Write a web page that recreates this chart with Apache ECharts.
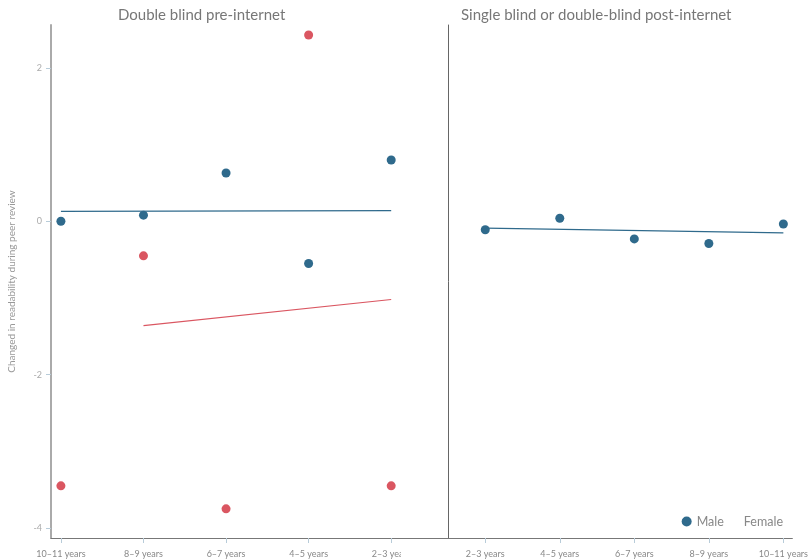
<!DOCTYPE html>
<html>
<head>
<meta charset="utf-8">
<script src="https://cdn.jsdelivr.net/npm/echarts@6/dist/echarts.min.js"></script>
<style>
  html, body { margin: 0; padding: 0; background: #fff; }
  #chart { width: 811px; height: 559px; }
</style>
</head>
<body>
<div id="chart"></div>
<script>
// Categories for each panel (left panel runs oldest to youngest)
const leftCategories = ['10–11 years', '8–9 years', '6–7 years', '4–5 years', '2–3 years'];
const rightCategories = ['2–3 years', '4–5 years', '6–7 years', '8–9 years', '10–11 years'];

// Change in readability, per category
const leftMale = [0.00, 0.08, 0.63, -0.55, 0.80];
const leftFemale = [-3.45, -0.45, -3.75, 2.43, -3.45];
const rightMale = [-0.11, 0.04, -0.23, -0.29, -0.035];

// Fitted trend lines: [start category index, end category index, start value, end value]
const leftMaleTrend = [0, 4, 0.13, 0.14];
const leftFemaleTrend = [1, 4, -1.36, -1.02];
const rightMaleTrend = [0, 4, -0.09, -0.15];

const yTicks = [-4, -2, 0, 2];
const tickIdx = [0, 1, 2, 3, 4];

const BLUE = '#2f6a8c';
const RED = '#da5661';
const FONT = 'Lato, "Open Sans", sans-serif';

const toPoints = arr => arr.map((v, i) => [i, v]);
const trendPoints = t => [[t[0], t[2]], [t[1], t[3]]];

const chart = echarts.init(document.getElementById('chart'), null, { renderer: 'canvas' });

function xAxisFor(gridIndex, cats, min, max) {
  return {
    type: 'value', gridIndex, min, max,
    splitLine: { show: false },
    axisLine: { show: true, onZero: false, lineStyle: { color: '#777', width: 1.2 } },
    axisTick: { show: true, customValues: tickIdx, length: 5, lineStyle: { color: '#b8ccd9', width: 1 } },
    axisLabel: {
      show: true, customValues: tickIdx, margin: 12,
      color: '#888', fontSize: 9, fontFamily: FONT,
      formatter: v => cats[Math.round(v)] || ''
    }
  };
}

const option = {
  backgroundColor: '#fff',
  animation: false,
  title: [
    { text: 'Double blind pre-internet', left: 113, top: 3,
      textStyle: { color: '#777', fontSize: 15, fontWeight: 'normal', fontFamily: FONT } },
    { text: 'Single blind or double-blind post-internet', left: 456, top: 3,
      textStyle: { color: '#777', fontSize: 15, fontWeight: 'normal', fontFamily: FONT } }
  ],
  legend: {
    right: 23, bottom: 26, itemGap: 5, itemWidth: 10, itemHeight: 10,
    textStyle: { color: '#888', fontSize: 12.5, fontFamily: FONT },
    data: [
      { name: 'Male', icon: 'circle' },
      { name: 'Female', icon: 'circle', itemStyle: { opacity: 0 } }
    ]
  },
  // the left panel's drawing area ends just past its last label, cutting it off
  graphic: [
    { type: 'rect', z: 100, shape: { x: 401, y: 544, width: 46, height: 15 },
      style: { fill: '#fff' }, silent: true }
  ],
  grid: [
    { left: 51, top: 25, width: 398, height: 513, containLabel: false },
    { left: 448, top: 25, width: 348, height: 513, containLabel: false }
  ],
  xAxis: [
    xAxisFor(0, leftCategories, -0.12, 4.7),
    xAxisFor(1, rightCategories, -0.5, 4.12)
  ],
  yAxis: [
    {
      type: 'value', gridIndex: 0, min: -4.13, max: 2.56,
      name: 'Changed in readability during peer review',
      nameLocation: 'middle', nameGap: 34, nameRotate: 90,
      nameTextStyle: { color: '#999', fontSize: 10, fontFamily: FONT },
      splitLine: { show: false },
      axisLine: { show: true, onZero: false, lineStyle: { color: '#aaa', width: 2 } },
      axisTick: { show: true, customValues: yTicks, length: 5, lineStyle: { color: '#b8ccd9' } },
      axisLabel: { show: true, customValues: yTicks, margin: 9, color: '#aaa', fontSize: 9, fontFamily: FONT }
    },
    {
      type: 'value', gridIndex: 1, min: -4.13, max: 2.56,
      splitLine: { show: false },
      axisLine: { show: true, onZero: false, lineStyle: { color: '#666', width: 1 } },
      axisTick: { show: false },
      axisLabel: { show: false }
    }
  ],
  series: [
    { name: 'Male', type: 'line', xAxisIndex: 0, yAxisIndex: 0, data: trendPoints(leftMaleTrend),
      showSymbol: false, lineStyle: { color: BLUE, width: 1.2 }, itemStyle: { color: BLUE }, silent: true },
    { name: 'Female', type: 'line', xAxisIndex: 0, yAxisIndex: 0, data: trendPoints(leftFemaleTrend),
      showSymbol: false, lineStyle: { color: RED, width: 1.2 }, itemStyle: { color: RED }, silent: true },
    { name: 'Male', type: 'line', xAxisIndex: 1, yAxisIndex: 1, data: trendPoints(rightMaleTrend),
      showSymbol: false, lineStyle: { color: BLUE, width: 1.2 }, itemStyle: { color: BLUE }, silent: true },
    { name: 'Male', type: 'scatter', xAxisIndex: 0, yAxisIndex: 0, data: toPoints(leftMale),
      symbol: 'circle', symbolSize: 9, itemStyle: { color: BLUE, opacity: 1 } },
    { name: 'Female', type: 'scatter', xAxisIndex: 0, yAxisIndex: 0, data: toPoints(leftFemale),
      symbol: 'circle', symbolSize: 9, itemStyle: { color: RED, opacity: 1 } },
    { name: 'Male', type: 'scatter', xAxisIndex: 1, yAxisIndex: 1, data: toPoints(rightMale),
      symbol: 'circle', symbolSize: 9, itemStyle: { color: BLUE, opacity: 1 } }
  ]
};

chart.setOption(option);
</script>
</body>
</html>
